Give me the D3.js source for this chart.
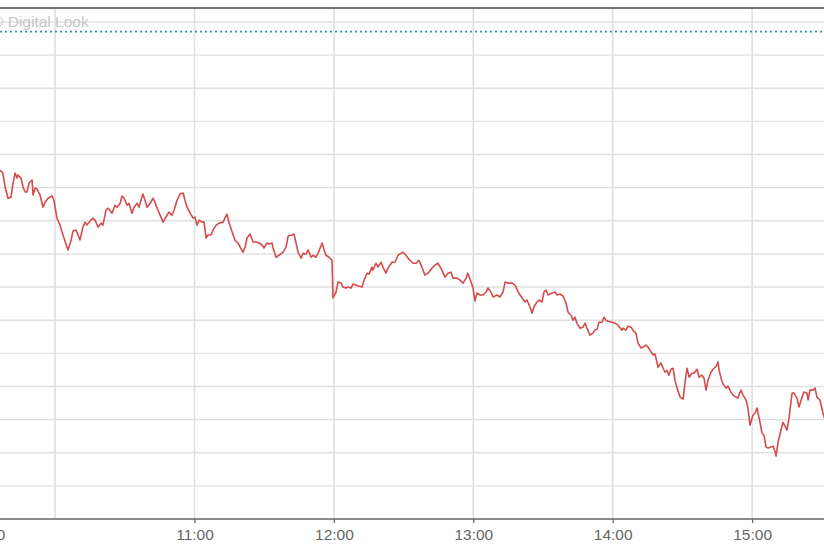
<!DOCTYPE html>
<html>
<head>
<meta charset="utf-8">
<script src="https://cdn.jsdelivr.net/npm/d3@7"></script>
<style>
html, body { margin: 0; padding: 0; background: #fff; overflow: hidden; }
#price_chart svg { display: block; font-family: "Liberation Sans", Arial, sans-serif; }
</style>
</head>
<body>
<div id="price_chart"></div>
<script>
// intraday trades, time as minutes after 09:30
var minutes = [
  6.3,7.5,8.5,9.7,11.0,11.9,12.8,13.6,14.0,15.3,
  16.2,17.1,17.9,18.8,20.1,20.5,21.4,22.2,23.5,24.8,
  25.7,27.0,28.7,29.5,30.8,32.1,33.4,35.1,35.6,36.9,
  37.7,39.0,39.9,40.7,42.0,42.9,43.7,45.0,46.3,47.2,
  48.5,49.8,50.6,51.9,52.8,54.5,55.8,56.7,58.0,58.8,
  59.7,61.0,61.8,63.1,64.0,65.3,66.1,67.8,68.7,69.6,
  70.9,72.2,73.0,73.9,75.2,76.5,78.2,79.0,80.3,81.2,
  82.5,83.8,85.1,85.9,86.8,88.1,
  89.4,90.2,91.1,92.0,93.2,94.1,95.0,95.8,97.1,98.0,
  99.3,100.6,102.3,103.1,104.0,104.9,106.2,107.4,108.7,110.9,
  111.8,112.6,113.9,115.2,116.5,117.8,119.1,119.9,121.2,122.1,
  123.4,123.8,125.1,126.4,128.1,129.4,130.3,132.0,132.8,133.7,
  134.6,135.9,136.7,138.0,138.9,140.2,141.0,142.3,143.2,144.9,
  145.8,146.6,147.9,149.2,149.6,150.9,151.8,153.1,153.9,155.2,
  156.1,157.4,158.2,159.5,160.4,162.1,163.0,164.3,165.1,166.4,
  166.8,168.1,169.0,170.3,
  171.1,172.4,173.3,175.0,176.3,177.6,178.9,179.8,181.0,182.3,
  184.1,185.4,186.6,187.9,189.2,190.5,192.2,193.5,194.8,196.5,
  197.8,199.1,200.4,201.3,203.0,204.3,205.6,206.9,207.7,209.0,
  209.9,210.7,211.6,212.9,214.2,215.5,216.3,217.6,218.5,220.2,
  221.5,222.8,223.7,224.9,226.7,228.0,229.3,231.0,232.3,233.1,
  234.4,235.3,236.1,237.4,238.3,239.6,240.4,241.3,242.2,243.9,
  245.2,246.0,247.3,248.6,249.9,250.8,252.1,252.9,253.8,254.6,
  255.9,257.2,258.1,258.9,260.2,
  261.5,262.4,263.3,264.1,265.4,266.3,267.1,268.0,269.7,271.0,
  272.3,274.0,274.4,275.7,276.6,277.9,278.7,280.0,280.9,282.2,
  283.1,284.3,285.2,286.5,287.4,288.2,289.1,289.5,290.8,291.7,
  292.5,293.4,294.2,295.1,296.0,296.8,297.7,299.0,300.3,301.1,
  302.0,302.9,304.1,305.0,306.3,307.2,308.4,309.3,310.2,311.0,
  312.3,313.2,314.5,315.3,315.8,317.1,317.9,318.8,319.6,320.9,
  321.8,323.1,323.9,325.2,326.1,327.4,328.2,329.1,330.4,331.3,
  332.1,333.0,334.3,335.1,336.0,336.9,338.1,339.0,339.9,340.3,
  341.2,342.4,343.3,344.2,345.0,345.9,347.2,348.0,349.3,350.2,
  351.5,352.3,353.6,354.1,354.9,356.2,357.1,357.9,359.2,360.5,
  361.4
];

var prices = [
  455.3,454.4,450.2,446.8,447.1,451.4,454.4,452.9,453.8,452.9,
  450.2,448.7,448.7,451.4,452.3,447.8,449.9,449.6,447.8,444.1,
  445.6,446.8,447.5,446.2,440.8,438.7,435.7,432.1,431.2,434.2,
  436.9,437.2,435.7,434.2,438.1,439.6,438.7,439.9,440.8,440.2,
  438.1,439.3,438.7,443.2,443.8,442.3,444.7,444.1,445.3,447.5,
  446.8,444.7,445.3,442.3,444.1,445.3,444.1,448.1,446.2,444.1,
  445.3,446.8,445.6,443.8,441.7,439.6,441.7,442.6,441.7,443.2,
  446.2,448.1,448.4,446.2,444.1,442.3,
  440.8,441.1,438.7,440.2,439.6,439.6,434.8,435.7,435.7,437.2,
  438.7,439.3,439.6,440.8,442.0,439.3,436.6,434.2,433.3,430.5,
  432.1,434.8,436.0,433.6,433.6,433.3,432.7,431.8,433.3,433.0,
  433.3,431.8,429.0,429.6,430.5,432.1,435.4,435.7,436.0,433.3,
  430.5,428.7,430.2,429.9,431.2,429.0,429.6,429.0,430.2,433.3,
  431.2,429.6,429.0,428.1,416.7,418.5,421.5,421.2,420.0,419.7,
  420.0,419.7,420.9,420.6,420.3,420.0,422.1,424.2,423.9,426.0,
  425.1,427.2,426.0,427.5,
  426.0,424.2,425.7,427.5,427.5,429.6,430.2,430.5,429.6,428.4,
  427.2,427.2,428.1,426.0,423.6,424.2,425.7,426.6,427.2,425.1,
  423.0,424.2,424.5,422.7,422.7,422.1,421.2,422.7,424.2,421.5,
  419.7,415.8,418.2,417.6,417.6,418.5,419.7,418.5,417.0,417.6,
  417.0,418.5,421.5,421.2,421.2,420.6,418.5,416.7,415.5,416.1,
  414.0,412.1,414.0,415.5,416.1,415.5,418.5,419.1,417.6,418.2,
  418.5,417.6,417.9,417.3,415.2,412.4,411.5,410.0,410.9,409.1,
  407.6,407.9,409.1,407.6,405.5,
  406.1,407.0,407.3,409.4,409.4,410.9,410.0,409.7,409.4,409.1,
  408.5,407.0,407.6,407.0,408.2,407.9,407.0,406.1,403.1,401.6,
  401.9,402.5,401.9,400.4,399.5,399.8,397.1,395.8,397.1,395.5,
  394.3,394.9,393.4,395.2,395.5,391.9,389.5,386.8,386.2,391.0,
  395.5,392.8,394.0,394.0,395.2,392.8,393.4,392.5,388.9,391.9,
  394.3,395.2,396.1,397.4,394.9,391.3,390.4,389.5,390.1,388.3,
  387.4,386.8,386.5,388.9,387.4,385.9,383.5,378.3,381.4,382.0,
  383.5,380.5,375.9,375.3,371.7,371.4,371.7,372.0,370.2,369.0,
  373.2,376.8,379.2,378.0,376.8,380.5,388.0,388.0,386.5,383.8,
  386.8,388.3,388.0,385.9,388.9,388.9,389.5,386.8,385.9,382.0,
  379.9
];

var prevClose = 497.1;
var priceGrid = [360, 370, 380, 390, 400, 410, 420, 430, 440, 450, 460, 470, 480, 490, 500];
var hourGrid = ["10:00", "11:00", "12:00", "13:00", "14:00", "15:00"];
var tickLabels = ["09:30", "11:00", "12:00", "13:00", "14:00", "15:00"];
var watermark = "\u00a9 Digital Look";


var IntradayPlot = function(options){
	this.opt = {
		'target': 'price_chart',
		'width': 824,
		'height': 550
	};
	Object.assign(this.opt, options);
	this.parseTime = d3.timeParse("%H:%M");
	this.open = this.parseTime("09:30");
	this.setupSVG();
	this.renderPlot();
};

IntradayPlot.prototype.setupSVG = function(){
	var top = 8, axisY = 519;

	this.x = d3.scaleTime()
		.domain([this.parseTime("10:00"), this.parseTime("15:00")])
		.range([55.1, 752.1]);

	this.y = d3.scaleLinear()
		.domain([350, 500])
		.range([axisY, 22]);

	this.top = top;
	this.axisY = axisY;

	this.svg = d3.select("#" + this.opt.target).append("svg")
		.attr("width", this.opt.width)
		.attr("height", this.opt.height);
};

IntradayPlot.prototype.renderPlot = function(){
	var self = this;
	var W = this.opt.width;
	var data = minutes.map(function(m, i){
		return { time: new Date(+self.open + m * 60000), price: prices[i] };
	});

	// horizontal grid
	this.svg.append("g").selectAll("line")
		.data(priceGrid)
		.enter().append("line")
		.attr("x1", 0).attr("x2", W)
		.attr("y1", function(d){ return self.y(d); })
		.attr("y2", function(d){ return self.y(d); })
		.attr("stroke", "#e0e0e0")
		.attr("stroke-width", 1.4);

	// vertical grid
	this.svg.append("g").selectAll("line")
		.data(hourGrid)
		.enter().append("line")
		.attr("x1", function(d){ return self.x(self.parseTime(d)); })
		.attr("x2", function(d){ return self.x(self.parseTime(d)); })
		.attr("y1", this.top).attr("y2", this.axisY)
		.attr("stroke", "#e0e0e0")
		.attr("stroke-width", 1.6);

	this.svg.append("text")
		.attr("x", -8).attr("y", 27)
		.attr("font-size", "15.5px")
		.attr("fill", "#c6c6c6")
		.text(watermark);

	// previous close
	this.svg.append("line")
		.attr("x1", 0).attr("x2", W)
		.attr("y1", this.y(prevClose)).attr("y2", this.y(prevClose))
		.attr("stroke", "#2f9696")
		.attr("stroke-width", 1.8)
		.attr("stroke-dasharray", "2,3");

	this.svg.append("line")
		.attr("x1", 0).attr("x2", W)
		.attr("y1", this.top).attr("y2", this.top)
		.attr("stroke", "#444")
		.attr("stroke-width", 1.5);

	var line = d3.line()
		.x(function(d){ return self.x(d.time); })
		.y(function(d){ return self.y(d.price); });

	this.svg.append("path")
		.datum(data)
		.attr("fill", "none")
		.attr("stroke", "#d44c4c")
		.attr("stroke-width", 1.6)
		.attr("stroke-linejoin", "round")
		.attr("d", line);

	var xAxis = d3.axisBottom(this.x)
		.tickValues(tickLabels.map(function(t){ return self.parseTime(t); }))
		.tickFormat(d3.timeFormat("%H:%M"))
		.tickSize(4)
		.tickPadding(6);

	var g = this.svg.append("g")
		.attr("class", "x axis")
		.attr("transform", "translate(0," + this.axisY + ")")
		.call(xAxis);
	g.select(".domain").remove();
	g.selectAll(".tick line").attr("stroke", "#666").attr("stroke-width", 1.3);
	g.selectAll(".tick text")
		.attr("fill", "#666")
		.style("font-size", "15.5px")
		.style("font-family", "'Liberation Sans', Arial, sans-serif");

	g.append("line")
		.attr("x1", 0).attr("x2", W)
		.attr("stroke", "#666")
		.attr("stroke-width", 1.5);
};

new IntradayPlot({});
</script>
</body>
</html>
